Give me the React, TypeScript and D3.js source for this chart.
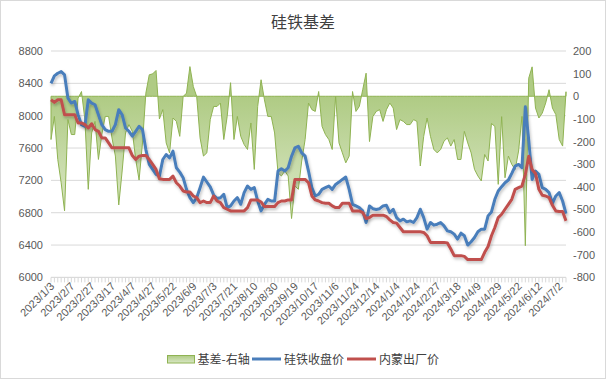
import React from "react";
import * as d3 from "d3";

const tickLabels = ["2023/1/3","2023/2/7","2023/2/27","2023/3/17","2023/4/7","2023/4/27","2023/5/22","2023/6/9","2023/7/3","2023/7/21","2023/8/10","2023/8/30","2023/9/19","2023/10/17","2023/11/6","2023/11/24","2023/12/14","2024/1/4","2024/1/24","2024/2/27","2024/3/18","2024/4/9","2024/4/29","2024/5/22","2024/6/12","2024/7/2"];
const labelEvery = 6;

const closePrice = [8400,8492,8525,8546,8505,8217,8156,8176,8012,7889,7869,8197,8156,8135,8012,7889,7828,7807,7807,7889,8074,8012,7848,7807,7746,7807,7869,7828,7581,7397,7335,7274,7253,7458,7520,7479,7561,7356,7302,7233,7089,6986,6925,6986,7110,7240,7180,7120,7020,6975,6985,7028,6863,6884,6945,6986,6904,7048,7130,7089,7110,6945,6822,6904,6966,6945,6945,7315,7343,7315,7356,7499,7602,7622,7540,7499,7315,7110,7007,7028,7089,7110,7130,7089,7150,7179,7212,7241,7089,6904,6884,6863,6822,6679,6884,6850,6840,6850,6884,6892,6802,6843,6740,6699,6720,6687,6699,6679,6740,6843,6740,6597,6679,6646,6658,6679,6638,6576,6564,6535,6474,6547,6515,6400,6441,6494,6564,6597,6597,6761,6810,6966,7069,7122,7171,7204,7286,7376,7397,7356,8110,7700,7212,7315,7274,7110,7089,7048,6917,7007,7048,6945,6790];

const factoryPrice = [8197,8164,8197,8197,8012,8012,8012,8012,7910,7910,7889,7848,7900,7828,7807,7725,7725,7663,7602,7602,7602,7602,7602,7602,7507,7458,7499,7507,7507,7458,7397,7335,7220,7212,7212,7212,7253,7171,7130,7069,7056,7056,7007,6986,6925,6945,6925,6925,7007,6945,6925,6863,6843,6822,6822,6822,6822,6822,6863,6958,6958,6958,6933,6876,6876,6876,6876,6925,6945,6945,6958,6958,7212,7212,7212,7212,7171,7007,6958,6945,6925,6917,6917,6884,6863,6863,6917,6917,6917,6822,6822,6822,6802,6728,6740,6769,6769,6769,6769,6753,6712,6679,6671,6617,6564,6564,6564,6564,6564,6564,6556,6515,6433,6433,6433,6433,6433,6425,6351,6269,6269,6269,6260,6220,6220,6220,6220,6220,6310,6383,6515,6617,6740,6781,6843,6904,6966,7089,7110,7130,7274,7499,7335,7286,7089,7015,7007,6986,6892,6822,6814,6814,6699];

const basis = [-191,-89,-279,-382,-506,-103,-169,-169,-8,21,-103,-411,-162,-111,-279,-169,-89,-89,-184,-264,-480,-330,-162,-125,-155,-279,-370,-206,14,95,99,114,-100,-59,-206,-250,-96,-111,-177,-1,14,131,43,-1,-184,-264,-250,-103,-45,-45,-30,-191,-89,60,-191,-89,-177,-213,-235,-118,-323,-45,73,-16,-89,-89,-162,-338,-352,-330,-352,-540,-396,-411,-286,-191,-30,-59,-67,21,-133,-169,-191,-235,-1,-206,-250,-294,-264,21,-67,-45,29,102,-200,-89,-67,-59,-111,-59,-30,-52,-147,-103,-111,-125,-125,-103,-111,-308,-177,-96,-177,-235,-250,-235,-198,-184,-220,-191,-279,-279,-155,-206,-250,-323,-352,-374,-257,-286,-120,-133,-389,-90,-360,-264,-301,-323,-242,-89,-660,80,130,-52,-96,-74,-30,29,-52,-81,-191,-220,20];

const leftTicks = [6000,6400,6800,7200,7600,8000,8400,8800];
const rightTicks = [200,100,0,-100,-200,-300,-400,-500,-600,-700,-800];

const W = 606, H = 379;
const L = 51, R = 566, T = 51, B = 277.4;
const FONT = "'Liberation Sans', Arial, sans-serif";
const CJK = "'Noto Sans CJK SC', sans-serif";

export default function App() {
  const n = closePrice.length;
  const x = d3.scaleLinear().domain([0, n - 1]).range([L, R]);
  const yL = d3.scaleLinear().domain([6000, 8800]).range([B, T]);
  const yR = d3.scaleLinear().domain([-800, 200]).range([B, T]);
  const idx = d3.range(n);

  const area = d3.area<number>().x((i) => x(i)).y0(yR(0)).y1((i) => yR(basis[i]))(idx) || "";
  const lineB = d3.line<number>().x((i) => x(i)).y((i) => yL(closePrice[i]))(idx) || "";
  const lineR = d3.line<number>().x((i) => x(i)).y((i) => yL(factoryPrice[i]))(idx) || "";

  return (
    <div style={{ position: "fixed", left: 0, top: 0, width: W, height: H, background: "#fff" }}>
      <svg width={W} height={H} style={{ display: "block" }}>
        <defs>
          <linearGradient id="gfill" gradientUnits="userSpaceOnUse" x1="0" y1={yR(0)} x2="0" y2={yR(-750)}>
            <stop offset="0" stopColor="#afcb84" />
            <stop offset="1" stopColor="#eef4e4" />
          </linearGradient>
          <linearGradient id="gleg" x1="0" y1="0" x2="0" y2="1">
            <stop offset="0" stopColor="#afcb84" />
            <stop offset="1" stopColor="#d9e7c5" />
          </linearGradient>
          <filter id="shadow" x="-5%" y="-5%" width="110%" height="120%">
            <feDropShadow dx="1" dy="2" stdDeviation="1.5" floodColor="#000" floodOpacity="0.25" />
          </filter>
        </defs>
        <rect x={0.5} y={0.5} width={W - 1} height={H - 1} fill="#fff" stroke="#d9d9d9" />
        <text x={W / 2} y={28} textAnchor="middle" fontFamily={CJK} fontSize={16} fill="#404040">硅铁基差</text>

        {leftTicks.map((v) => (
          <line key={"g" + v} x1={L} x2={R} y1={yL(v)} y2={yL(v)} stroke="#d9d9d9" strokeWidth={1} />
        ))}

        <path d={area} fill="url(#gfill)" stroke="#8fb352" strokeWidth={1} strokeLinejoin="round" />
        <path d={lineB} fill="none" stroke="#4a7ebb" strokeWidth={3} strokeLinejoin="round" filter="url(#shadow)" />
        <path d={lineR} fill="none" stroke="#c0504d" strokeWidth={3} strokeLinejoin="round" filter="url(#shadow)" />

        <line x1={L} x2={R} y1={B} y2={B} stroke="#d9d9d9" />
        {idx.map((i) => (
          <line key={"t" + i} x1={x(i)} x2={x(i)} y1={B} y2={B + 5} stroke="#d9d9d9" />
        ))}

        {leftTicks.map((v) => (
          <text key={"l" + v} x={43} y={yL(v) + 4} textAnchor="end" fontFamily={FONT} fontSize={11} fill="#595959">{v}</text>
        ))}
        {rightTicks.map((v) => (
          <text key={"r" + v} x={573} y={yR(v) + 4} textAnchor="start" fontFamily={FONT} fontSize={11} fill="#595959">{v}</text>
        ))}

        {tickLabels.map((s, k) => {
          const px = x(k * labelEvery) + 4;
          const py = 287;
          return (
            <text key={"x" + k} x={px} y={py} transform={`rotate(-45 ${px} ${py})`} textAnchor="end" fontFamily={FONT} fontSize={11} fill="#595959">{s}</text>
          );
        })}

        <rect x={167.5} y={355.5} width={27} height={7.5} fill="url(#gleg)" stroke="#8fb352" />
        <text x={197.5} y={363.5} fontFamily={CJK} fontSize={12} fill="#404040">基差-右轴</text>
        <line x1={252} x2={281} y1={359} y2={359} stroke="#4a7ebb" strokeWidth={3} />
        <text x={284} y={363.5} fontFamily={CJK} fontSize={12} fill="#404040">硅铁收盘价</text>
        <line x1={347} x2={376} y1={359} y2={359} stroke="#c0504d" strokeWidth={3} />
        <text x={379} y={363.5} fontFamily={CJK} fontSize={12} fill="#404040">内蒙出厂价</text>
      </svg>
    </div>
  );
}
